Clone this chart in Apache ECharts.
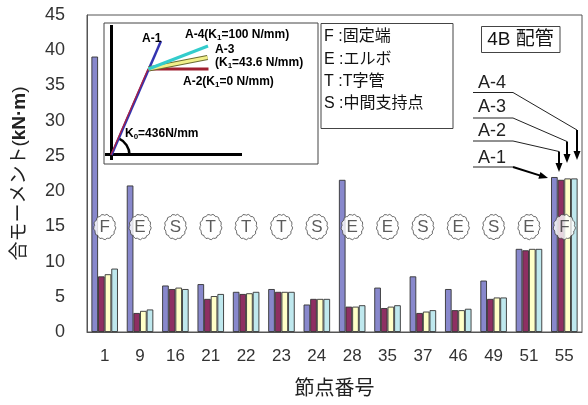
<!DOCTYPE html>
<html>
<head>
<meta charset="utf-8">
<script src="https://cdn.jsdelivr.net/npm/echarts@6/dist/echarts.min.js"></script>
<style>
  html, body { margin: 0; padding: 0; background: #fff; }
  #chart { width: 588px; height: 405px; }
</style>
</head>
<body>
<div id="chart"></div>
<script>
// Node numbers along the pipe and the resultant moment for each support model
const nodes = ['1', '9', '16', '21', '22', '23', '24', '28', '35', '37', '46', '49', '51', '55'];
const momentA1 = [39.1, 20.8, 6.6, 6.8, 5.7, 6.1, 3.9, 21.6, 6.3, 7.9, 6.1, 7.3, 11.8, 22.0];
const momentA2 = [7.9, 2.7, 6.1, 4.7, 5.4, 5.7, 4.7, 3.6, 3.4, 2.7, 3.1, 4.7, 11.6, 21.6];
const momentA3 = [8.2, 3.0, 6.3, 5.1, 5.5, 5.7, 4.7, 3.6, 3.6, 2.9, 3.1, 4.9, 11.8, 21.8];
const momentA4 = [9.0, 3.2, 6.1, 5.4, 5.7, 5.7, 4.7, 3.8, 3.8, 3.1, 3.3, 4.9, 11.8, 21.8];
// Node type: F fixed end, E elbow, T tee, S intermediate support
const nodeTypes = ['F', 'E', 'S', 'T', 'T', 'T', 'S', 'E', 'E', 'S', 'E', 'S', 'E', 'F'];
const typeLevel = 14.9;
const yTicks = { min: 0, max: 45, step: 5 };

const seriesNames = ['A-1', 'A-2', 'A-3', 'A-4'];
const seriesData = [momentA1, momentA2, momentA3, momentA4];
const seriesColors = ['#8888cc', '#8e2f62', '#ffffc8', '#bfe8ee'];

// scalloped outline used for the node type badges
function scallopPath(n) {
  const R = 50, pts = [];
  for (let i = 0; i <= n; i++) {
    const a = (i / n) * Math.PI * 2 - Math.PI / 2;
    pts.push([R * Math.cos(a), R * Math.sin(a)]);
  }
  const chord = 2 * R * Math.sin(Math.PI / n);
  const br = chord * 0.62;
  let d = 'M' + pts[0][0].toFixed(2) + ',' + pts[0][1].toFixed(2);
  for (let i = 1; i <= n; i++) {
    d += 'A' + br.toFixed(2) + ',' + br.toFixed(2) + ' 0 0,1 ' + pts[i][0].toFixed(2) + ',' + pts[i][1].toFixed(2);
  }
  return 'path://' + d + 'Z';
}

const latin = '"Liberation Sans", Arial, sans-serif';
const jp = '"Liberation Sans", "Noto Sans CJK JP", sans-serif';

const barSeries = seriesNames.map((name, i) => ({
  name: name,
  type: 'bar',
  data: seriesData[i],
  barGap: '0%',
  barCategoryGap: '25%',
  itemStyle: { color: seriesColors[i], borderColor: '#333', borderWidth: 0.9 },
  z: 2
}));

const badgeSeries = {
  type: 'scatter',
  data: nodes.map((n, i) => ({ value: [n, typeLevel], label: { formatter: nodeTypes[i] } })),
  symbol: scallopPath(13),
  symbolSize: [22, 25],
  itemStyle: { color: '#ffffff', borderColor: '#333', borderWidth: 0.9 },
  label: { show: true, position: 'inside', color: '#333', fontFamily: latin, fontSize: 17 },
  z: 5,
  silent: true
};

// arrow helper for the annotation pointers
function arrow(points, width, headLen, headW) {
  const a = points[points.length - 2], b = points[points.length - 1];
  const dx = b[0] - a[0], dy = b[1] - a[1], L = Math.hypot(dx, dy);
  const ux = dx / L, uy = dy / L;
  const stemEnd = [b[0] - ux * headLen * 0.8, b[1] - uy * headLen * 0.8];
  const bx = b[0] - ux * headLen, by = b[1] - uy * headLen;
  return [
    { type: 'polyline', shape: { points: points.slice(0, -1).concat([stemEnd]) },
      style: { stroke: '#000', lineWidth: width, fill: null }, z: 20 },
    { type: 'polygon', shape: { points: [b, [bx - uy * headW, by + ux * headW], [bx + uy * headW, by - ux * headW]] },
      style: { fill: '#000' }, z: 20 }
  ];
}

function line(x1, y1, x2, y2, color, w, z) {
  return { type: 'line', shape: { x1, y1, x2, y2 }, style: { stroke: color, lineWidth: w }, z: z || 20 };
}

function boldText(x, y, text) {
  return {
    type: 'text', x: x, y: y, z: 21,
    style: {
      text: text, fill: '#000', verticalAlign: 'middle', align: 'left',
      font: 'bold 12px ' + latin,
      rich: {
        b: { fontFamily: latin, fontWeight: 'bold', fontSize: 12, fill: '#000' },
        s: { fontFamily: latin, fontWeight: 'bold', fontSize: 8, fill: '#000', verticalAlign: 'bottom', padding: [6, 0, 0, 0] }
      }
    }
  };
}

const graphics = [
  // stiffness diagram
  { type: 'rect', shape: { x: 104, y: 23, width: 214, height: 141 }, style: { fill: '#fff', stroke: '#444', lineWidth: 1 }, z: 15 },
  line(111.5, 25, 111.5, 160, '#000', 3),
  line(105, 154.5, 242, 154.5, '#000', 3),
  { type: 'arc', shape: { cx: 111.5, cy: 155, r: 18, startAngle: -1.164, endAngle: 0, clockwise: true }, style: { stroke: '#000', lineWidth: 2.5, fill: null }, z: 20 },
  line(111.5, 155, 161, 41, '#3333b0', 2.5),
  line(110.8, 155, 148, 69, '#b02040', 1.2),
  line(148.5, 69, 208.5, 69, '#a02030', 3),
  line(148.5, 69, 207.5, 57.5, '#6b6b30', 5),
  line(148.5, 69, 207.5, 57.5, '#f2f08a', 3),
  line(148.5, 69, 208, 46, '#33cccc', 3),
  boldText(142, 39, '{b|A-1}'),
  boldText(185, 35, '{b|A-4(K}{s|1}{b|=100 N/mm)}'),
  boldText(215, 50, '{b|A-3}'),
  boldText(215, 63, '{b|(K}{s|1}{b|=43.6 N/mm)}'),
  boldText(183, 82, '{b|A-2(K}{s|1}{b|=0 N/mm)}'),
  boldText(125, 134, '{b|K}{s|0}{b|=436N/mm}'),

  // node type key
  { type: 'rect', shape: { x: 321, y: 23.5, width: 132, height: 105 }, style: { fill: '#fff', stroke: '#444', lineWidth: 1 }, z: 15 },
  { type: 'text', x: 324, y: 37, z: 21, style: { text: 'F :固定端', font: '16px ' + jp, fill: '#111', verticalAlign: 'middle' } },
  { type: 'text', x: 324, y: 60, z: 21, style: { text: 'E :エルボ', font: '16px ' + jp, fill: '#111', verticalAlign: 'middle' } },
  { type: 'text', x: 324, y: 82, z: 21, style: { text: 'T :T字管', font: '16px ' + jp, fill: '#111', verticalAlign: 'middle' } },
  { type: 'text', x: 324, y: 104, z: 21, style: { text: 'S :中間支持点', font: '16px ' + jp, fill: '#111', verticalAlign: 'middle' } },

  // piping label
  { type: 'rect', shape: { x: 481.5, y: 26.5, width: 78.5, height: 26 }, style: { fill: '#fff', stroke: '#444', lineWidth: 1 }, z: 15 },
  { type: 'text', x: 520.5, y: 39.5, z: 21, style: { text: '4B 配管', font: '19px ' + jp, fill: '#111', align: 'center', verticalAlign: 'middle' } },

  // series pointers
  { type: 'text', x: 478, y: 83, z: 21, style: { text: 'A-4', font: '18px ' + latin, fill: '#222', verticalAlign: 'middle' } },
  { type: 'text', x: 478, y: 107, z: 21, style: { text: 'A-3', font: '18px ' + latin, fill: '#222', verticalAlign: 'middle' } },
  { type: 'text', x: 478, y: 131.5, z: 21, style: { text: 'A-2', font: '18px ' + latin, fill: '#222', verticalAlign: 'middle' } },
  { type: 'text', x: 478, y: 158, z: 21, style: { text: 'A-1', font: '18px ' + latin, fill: '#222', verticalAlign: 'middle' } },
  line(473, 92.5, 513, 92.5, '#222', 1),
  line(473, 118, 513, 118, '#222', 1),
  line(473, 141, 513, 141, '#222', 1),
  line(473, 167, 513, 167, '#222', 1),
  line(513, 92.5, 577, 130, '#222', 1),
  line(513, 118, 567, 141.5, '#222', 1),
  line(513, 141, 559, 151.5, '#222', 1)
].concat(
  arrow([[577, 130], [577, 160]], 2, 9, 3.5),
  arrow([[567, 141.5], [567, 163]], 2, 9, 3.5),
  arrow([[559, 151.5], [559, 172]], 2, 9, 3.5),
  arrow([[513, 167], [548, 178]], 2, 9, 3.5)
);

const chart = echarts.init(document.getElementById('chart'), null, { renderer: 'canvas' });
chart.setOption({
  animation: false,
  backgroundColor: '#fff',
  grid: { left: 87, right: 6, top: 15, bottom: 73, show: true, borderColor: '#555', borderWidth: 1 },
  xAxis: {
    type: 'category',
    data: nodes,
    axisTick: { show: false },
    axisLine: { lineStyle: { color: '#555', width: 1 } },
    axisLabel: { color: '#333', fontFamily: latin, fontSize: 17, margin: 16 },
    name: '節点番号',
    nameLocation: 'middle',
    nameGap: 47,
    nameTextStyle: { color: '#222', fontFamily: jp, fontSize: 20 }
  },
  yAxis: {
    type: 'value',
    min: yTicks.min, max: yTicks.max, interval: yTicks.step,
    splitLine: { show: false },
    axisTick: { show: false },
    axisLine: { show: true, lineStyle: { color: '#555', width: 1 } },
    axisLabel: { color: '#333', fontFamily: latin, fontSize: 18, margin: 22 },
    name: '{r|合モーメント(}{b|kN·m}{r|)}',
    nameLocation: 'middle',
    nameRotate: 90,
    nameGap: 58,
    nameTextStyle: {
      rich: {
        r: { fontFamily: jp, fontSize: 19, color: '#222' },
        b: { fontFamily: latin, fontSize: 19, fontWeight: 'bold', color: '#222' }
      }
    }
  },
  series: barSeries.concat([badgeSeries]),
  graphic: graphics
});
</script>
</body>
</html>
